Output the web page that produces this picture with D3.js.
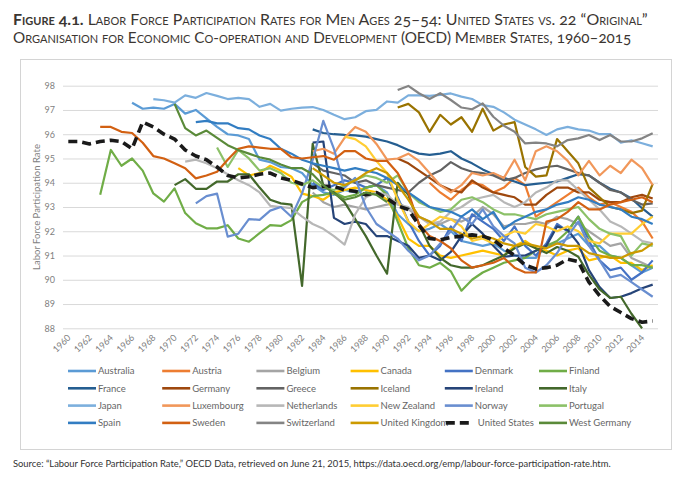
<!DOCTYPE html>
<html><head><meta charset="utf-8">
<script src="https://cdn.jsdelivr.net/npm/d3@7"></script>
<style>
html,body{margin:0;padding:0;background:#fff;}
svg{display:block;}
text{font-family: Lato, "Open Sans", sans-serif;}
</style></head><body>
<svg id="chart" width="680" height="477"></svg>
<script>
const years = [1960,1961,1962,1963,1964,1965,1966,1967,1968,1969,1970,1971,1972,1973,1974,1975,1976,1977,1978,1979,1980,1981,1982,1983,1984,1985,1986,1987,1988,1989,1990,1991,1992,1993,1994,1995,1996,1997,1998,1999,2000,2001,2002,2003,2004,2005,2006,2007,2008,2009,2010,2011,2012,2013,2014,2015];
const tickYears = [1960,1962,1964,1966,1968,1970,1972,1974,1976,1978,1980,1982,1984,1986,1988,1990,1992,1994,1996,1998,2000,2002,2004,2006,2008,2010,2012,2014];
const yTicks = [88,89,90,91,92,93,94,95,96,97,98];

const countries = ["Australia","Austria","Belgium","Canada","Denmark","Finland","France","Germany","Greece","Iceland","Ireland","Italy","Japan","Luxembourg","Netherlands","New Zealand","Norway","Portugal","Spain","Sweden","Switzerland","United Kingdom","United States","West Germany"];
const colors = ["#5B9BD5","#ED7D31","#A5A5A5","#FFC000","#4472C4","#70AD47","#255E91","#9E480E","#636363","#997300","#264478","#43682B","#7CAFDD","#F1975A","#B7B7B7","#FFCD33","#698ED0","#8CC168","#327DC2","#D26012","#848484","#CC9A00","#1a1a1a","#5A8A39"];
const startYears = [1966,1994,1983,1976,1983,1963,1983,1991,1983,1991,1983,1970,1968,1983,1971,1986,1972,1974,1972,1963,1991,1983,1960,1970];

const australia = [97.3,97.05,97.1,97.05,97.25,96.85,97.0,96.65,96.3,96.0,95.95,95.8,94.95,94.85,94.65,94.6,94.4,93.9,93.6,93.5,93.7,93.6,93.8,93.9,93.6,92.7,92.3,92.0,92.1,92.3,92.0,91.6,91.5,91.4,91.5,91.2,91.0,90.9,90.9,91.4,91.5,91.7,91.9,91.4,91.4,91.0,90.9,90.6,90.3,90.5];
const austria = [94.0,93.6,93.3,93.7,94.0,93.9,93.6,93.8,94.2,93.9,92.6,92.9,93.2,93.5,93.8,93.4,93.1,93.2,93.0,92.8,92.4,91.7];
const belgium = [93.6,93.2,93.0,93.1,93.0,92.9,93.0,93.1,93.2,92.9,92.6,92.4,92.3,92.5,92.4,92.6,93.0,92.7,92.2,92.3,92.3,92.4,92.3,92.6,92.5,92.3,92.0,91.7,91.4,91.5,90.9,90.7,90.5];
const canada = [94.6,94.3,94.4,94.7,94.5,94.25,93.55,93.45,93.3,93.6,93.7,93.8,93.7,93.6,93.3,92.6,91.7,91.4,91.4,91.0,90.9,91.0,91.1,91.2,91.1,91.0,91.4,91.6,91.3,91.2,91.0,91.2,91.3,90.8,90.9,91.0,90.7,90.7,90.4,90.6];
const denmark = [94.0,93.7,93.9,94.1,94.0,93.8,93.9,94.2,93.4,92.4,91.6,91.0,91.4,92.2,91.6,92.7,92.4,92.1,91.6,92.2,91.4,91.0,91.5,92.3,92.0,92.6,91.6,90.8,90.4,90.5,90.0,90.3,90.8];
const finland = [93.5,95.35,94.7,95.0,94.5,93.56,93.22,93.77,92.75,92.33,92.12,92.12,92.25,91.7,91.57,91.92,92.25,92.22,92.46,93.2,93.45,93.5,93.6,93.4,93.5,93.8,93.9,93.5,92.4,91.3,90.6,90.5,90.7,90.35,89.55,90.0,90.3,90.5,90.7,90.8,90.9,91.2,91.4,91.6,92.0,92.6,91.8,91.2,91.0,90.9,90.6,90.6,90.5];
const france = [96.2,96.05,96.0,95.97,95.95,95.9,95.8,95.7,95.55,95.35,95.2,95.15,95.2,95.3,95.0,94.8,94.55,94.35,94.2,94.05,93.9,93.95,94.0,94.05,94.2,94.35,94.3,94.0,93.75,93.6,93.35,92.95,92.6];
const germany = [95.0,94.8,94.5,94.2,93.9,93.7,93.6,94.1,93.8,93.6,93.5,93.4,93.1,93.1,93.5,93.8,93.8,93.6,93.6,93.3,93.2,93.2,93.4,93.5,93.35];
const greece = [94.8,94.5,94.4,94.3,94.0,94.1,93.9,93.8,93.7,93.6,94.0,94.3,94.5,94.85,94.6,94.45,94.4,94.3,94.1,94.2,94.4,94.55,94.65,94.7,94.55,94.4,94.3,94.0,93.7,93.6,93.3,93.1,93.15];
const iceland = [97.1,97.25,96.9,96.1,96.8,96.4,96.7,96.1,97.05,96.15,96.4,96.5,94.65,94.25,94.3,95.8,95.3,94.8,93.8,93.4,93.0,92.9,92.75,92.85,93.95];
const ireland = [95.65,95.7,92.55,92.3,92.4,92.3,91.8,91.8,91.6,91.4,90.9,91.0,90.8,91.15,91.8,92.3,91.9,91.4,90.95,91.0,91.0,91.2,91.4,92.2,92.05,91.5,90.4,89.7,89.25,89.3,89.45,89.65,89.8];
const italy = [93.9,94.15,93.75,93.75,94.05,94.05,94.35,94.35,93.8,93.3,93.15,93.1,89.75,95.6,93.9,93.6,93.2,92.5,91.8,91.0,90.25,94.0,93.5,92.3,91.4,90.9,90.6,90.5,90.5,90.6,90.8,91.0,91.3,91.5,91.3,91.1,91.35,91.2,90.95,90.2,89.6,89.25,89.3,88.6,88.0];
const japan = [97.45,97.4,97.3,97.6,97.5,97.7,97.58,97.45,97.5,97.45,97.13,97.25,96.97,97.05,97.1,97.12,97.0,96.8,96.62,96.7,96.95,97.0,97.35,97.3,97.6,97.6,97.58,97.62,97.68,97.55,97.45,97.2,97.13,96.9,96.6,96.4,96.2,95.97,96.2,96.3,96.2,96.15,96.0,96.0,95.65,95.75,95.63,95.5];
const luxembourg = [95.3,95.4,95.2,95.85,96.3,96.1,95.6,94.95,95.0,95.2,94.9,94.4,93.9,93.6,93.9,94.4,94.3,94.4,94.2,94.95,94.1,95.3,95.5,95.3,94.9,94.3,94.9,94.3,94.7,94.4,94.95,94.6,93.9];
const netherlands = [94.87,94.95,94.8,94.6,94.35,94.1,93.9,93.6,93.05,93.0,92.95,92.6,92.3,92.1,91.8,91.45,92.7,93.4,93.6,93.5,93.1,93.0,92.6,92.3,92.4,92.8,93.0,93.3,93.4,93.5,93.2,93.0,93.2,93.6,93.8,94.1,94.1,93.7,93.3,92.9,92.4,92.2,91.9,91.6,91.5];
const newZealand = [95.9,95.8,95.5,94.9,94.4,93.3,92.4,92.0,92.3,92.6,92.5,92.2,91.6,91.7,91.5,91.8,92.0,91.9,92.3,92.2,92.0,92.2,92.0,91.6,91.5,91.9,91.9,91.9,92.3,92.6];
const norway = [93.15,93.45,93.55,91.78,91.9,92.5,92.47,92.85,93.0,92.6,93.56,94.94,96.55,95.4,93.8,94.2,93.0,92.3,92.0,91.7,91.2,90.8,91.0,91.5,92.0,92.6,92.3,92.9,92.2,91.8,91.5,90.5,90.3,90.6,91.1,91.8,92.4,91.4,90.8,90.1,90.2,89.9,89.6,89.3];
const portugal = [95.45,94.65,95.35,95.0,94.5,94.6,94.4,94.0,93.9,94.1,93.8,93.7,93.9,94.1,94.3,94.2,94.0,94.3,93.6,93.2,93.0,92.8,92.9,93.3,93.4,93.2,92.9,92.7,92.7,92.6,92.5,92.7,92.8,92.9,93.0,92.5,92.1,91.9,91.8,91.0,91.5,91.4];
const spain = [96.5,96.55,96.45,96.45,96.25,96.2,95.95,95.8,95.4,95.2,94.95,94.8,94.7,94.6,94.5,94.6,94.5,94.4,94.2,93.9,93.6,93.3,93.0,92.9,92.8,92.6,92.9,92.5,92.8,92.1,92.4,92.6,92.8,92.9,93.1,93.2,93.4,93.3,93.1,93.0,92.9,92.6,92.5,92.3];
const sweden = [96.3,96.3,96.1,96.05,95.65,95.1,95.0,94.8,94.6,94.18,94.3,94.45,94.95,95.4,95.5,95.45,95.4,95.4,95.05,95.0,95.05,95.1,94.95,95.3,95.3,95.0,94.9,94.9,94.4,93.6,92.3,91.8,91.6,91.3,90.8,90.5,90.6,90.7,90.9,90.5,90.3,90.3,92.4,92.5,92.8,93.2,92.9,92.9,93.1,93.2,93.3,93.4,93.2];
const switzerland = [97.82,97.99,97.69,97.45,97.69,97.41,97.1,97.03,97.27,96.72,96.35,96.1,95.62,95.65,95.62,95.5,95.76,95.83,95.97,95.76,95.97,95.7,95.7,95.83,96.04];
const unitedKingdom = [94.6,94.3,94.0,93.9,94.1,94.4,94.6,94.4,93.9,93.3,92.6,92.4,92.1,92.1,91.9,91.7,91.8,91.7,91.5,91.4,91.5,91.4,91.3,91.5,91.4,91.4,91.1,91.0,90.9,90.9,91.1,91.2,91.5];
const unitedStates = [95.7,95.7,95.6,95.7,95.75,95.7,95.4,96.5,96.3,96.0,95.8,95.35,95.1,94.95,94.65,94.3,94.2,94.25,94.35,94.4,94.2,94.1,93.95,93.8,93.85,93.85,93.7,93.65,93.5,93.6,93.35,93.05,92.9,92.25,91.7,91.65,91.75,91.8,91.85,91.8,91.65,91.3,91.0,90.6,90.45,90.5,90.6,90.85,90.75,89.9,89.35,88.9,88.65,88.4,88.25,88.3];
const westGermany = [97.25,96.25,95.95,96.15,95.85,95.55,95.35,95.2,95.05,94.95,94.75,94.6,94.6,94.35,93.9,93.55,93.3,93.4,93.6,93.5,93.2];

const seriesValues = [australia,austria,belgium,canada,denmark,finland,france,germany,greece,iceland,ireland,italy,japan,luxembourg,netherlands,newZealand,norway,portugal,spain,sweden,switzerland,unitedKingdom,unitedStates,westGermany];

const svg = d3.select("#chart");
const W = 680, H = 477;
const plot = {left: 63, right: 658, top: 85.7, bottom: 328.3};

const x = d3.scaleBand().domain(years).range([plot.left, plot.right]).padding(0);
const xc = yr => x(yr) + x.bandwidth() / 2;
const y = d3.scaleLinear().domain([88, 98]).range([plot.bottom, plot.top]);

// chart area border
svg.append("rect").attr("x", 20.5).attr("y", 59.5).attr("width", 651).attr("height", 390)
  .attr("fill", "none").attr("stroke", "#d4d4d4").attr("stroke-width", 1);

// title
const titleColor = "#3b3632";
function fitText(sel, target) {
  const node = sel.node();
  const fs = parseFloat(sel.attr("font-size"));
  const len = node.getComputedTextLength();
  sel.attr("font-size", (fs * target / len).toFixed(2));
}
const t1 = svg.append("text").attr("x", 13).attr("y", 25).attr("font-size", 13.5)
  .attr("fill", titleColor).style("font-variant", "small-caps").style("font-variant-numeric", "oldstyle-nums");
t1.append("tspan").attr("font-weight", "bold").text("Figure 4.1.");
t1.append("tspan").text(" Labor Force Participation Rates for Men Ages 25–54: United States vs. 22 “Original”");
fitText(t1, 623);
const t2 = svg.append("text").attr("x", 13).attr("y", 43).attr("font-size", 13.5)
  .attr("fill", titleColor).style("font-variant", "small-caps").style("font-variant-numeric", "oldstyle-nums")
  .text("Organisation for Economic Co-operation and Development (OECD) Member States, 1960–2015");
fitText(t2, 589);

// gridlines & y axis
const yAxis = d3.axisLeft(y).tickValues(yTicks).tickSize(-(plot.right - plot.left)).tickPadding(8).tickFormat(d3.format("d"));
const gy = svg.append("g").attr("transform", `translate(${plot.left},0)`).call(yAxis);
gy.select(".domain").remove();
gy.selectAll(".tick line").attr("stroke", "#d9d9d9").attr("stroke-width", 1);
gy.selectAll(".tick text").attr("fill", "#7f7f7f").attr("font-size", 9).attr("font-family", "Lato, 'Open Sans', sans-serif");

// x axis labels
const xAxis = d3.axisBottom(x).tickValues(tickYears).tickSize(0).tickPadding(0);
const gx = svg.append("g").attr("transform", `translate(0,${plot.bottom})`).call(xAxis);
gx.select(".domain").remove();
gx.selectAll(".tick text")
  .attr("fill", "#7f7f7f").attr("font-size", 9).attr("font-family", "Lato, 'Open Sans', sans-serif")
  .attr("text-anchor", "end").attr("dy", null).attr("y", 0)
  .attr("transform", "translate(3,10) rotate(-45)");

// y axis title
svg.append("text").attr("transform", `translate(40,${(plot.top + plot.bottom) / 2}) rotate(-90)`)
  .attr("text-anchor", "middle").attr("font-size", 9.5).attr("fill", "#7f7f7f")
  .text("Labor Force Participation Rate");

// lines
const line = d3.line().defined(d => d.v != null).x(d => xc(d.yr)).y(d => y(d.v));
const series = countries.map((name, i) => {
  const start = startYears[i];
  const vals = seriesValues[i];
  return {name, color: colors[i], dashed: name === "United States",
    points: years.map(yr => ({yr, v: (yr >= start && yr - start < vals.length) ? vals[yr - start] : null}))};
});
const gl = svg.append("g");
series.forEach(s => {
  gl.append("path").datum(s.points).attr("d", line)
    .attr("fill", "none").attr("stroke", s.color)
    .attr("stroke-width", s.dashed ? 3.6 : 2.2)
    .attr("stroke-dasharray", s.dashed ? "9,5" : null)
    .attr("stroke-linejoin", "round");
});

// legend
const lg = svg.append("g");
series.forEach((s, i) => {
  const col = i % 6, row = Math.floor(i / 6);
  const x0 = 68 + col * 94.2, yy = 371 + row * 17.3;
  if (s.dashed) {
    lg.append("line").attr("x1", x0 + 1).attr("x2", x0 + 28).attr("y1", yy).attr("y2", yy)
      .attr("stroke", s.color).attr("stroke-width", 3.6).attr("stroke-dasharray", "9,5");
  } else {
    lg.append("line").attr("x1", x0).attr("x2", x0 + 28).attr("y1", yy).attr("y2", yy)
      .attr("stroke", s.color).attr("stroke-width", 2.6);
  }
  lg.append("text").attr("x", x0 + (s.dashed ? 33 : 30)).attr("y", yy + 3.2)
    .attr("font-size", 9.5).attr("fill", "#666").text(s.name);
});

// source
const src = svg.append("text").attr("x", 13).attr("y", 467).attr("font-size", 9).attr("fill", "#333")
  .text("Source: “Labour Force Participation Rate,” OECD Data, retrieved on June 21, 2015, https://data.oecd.org/emp/labour-force-participation-rate.htm.");
fitText(src, 599);
</script>
</body></html>
